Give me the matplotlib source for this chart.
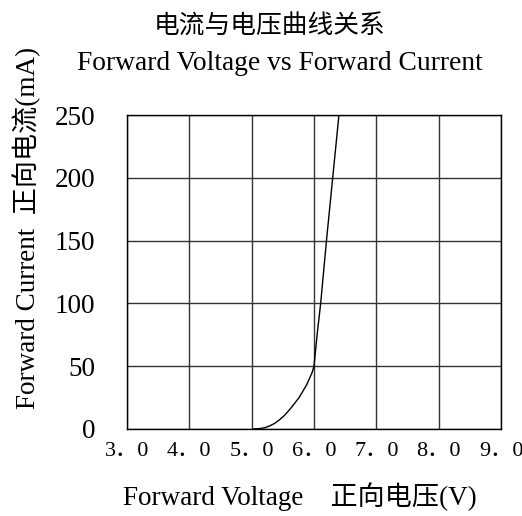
import matplotlib
matplotlib.use("Agg")
import matplotlib.pyplot as plt

# forward voltage (V) vs forward current (mA)
voltage = [5.02, 5.12, 5.21, 5.29, 5.37, 5.45, 5.53, 5.61, 5.69, 5.76, 5.82, 5.88, 5.93, 5.97, 6.00, 6.05, 6.107, 6.20, 6.30, 6.40]
current = [0, 0.3, 1, 2.5, 4.5, 7.5, 11, 15.5, 20.5, 25, 30, 35, 40.5, 45, 50, 75, 100, 150, 200, 250]

x_ticks = [3.0, 4.0, 5.0, 6.0, 7.0, 8.0, 9.0]
x_tick_labels = ["3．0", "4．0", "5．0", "6．0", "7．0", "8．0", "9．0"]
y_ticks = [0, 50, 100, 150, 200, 250]

title_cn = "电流与电压曲线关系"
title_en = "Forward Voltage vs Forward Current"
x_label = "Forward Voltage　正向电压(V)"
y_label = "Forward Current  正向电流(mA)"

fonts = ["Liberation Serif", "Noto Sans CJK SC"]
plt.rcParams["font.family"] = fonts

W, H = 522, 516
fig = plt.figure(figsize=(W / 100, H / 100), dpi=100)
ax = fig.add_axes([127 / W, 1 - 429 / H, 374 / W, 314 / H])

ax.plot(voltage, current, color="black", lw=1.0)

ax.set_xlim(3.0, 9.0)
ax.set_ylim(0, 250)
ax.set_xticks(x_ticks)
ax.set_xticklabels(x_tick_labels, fontsize=16)
ax.set_yticks(y_ticks)
ax.set_yticklabels([str(v) for v in y_ticks], fontsize=19.5)
ax.tick_params(length=0)
ax.tick_params(axis="y", pad=23)
ax.tick_params(axis="x", pad=9)
ax.grid(True, color="#333333", lw=1.0)
for s in ax.spines.values():
    s.set_color("black")
    s.set_linewidth(1.0)

fig.text(270 / W, 1 - 27 / H, title_cn, ha="center", va="center", fontsize=18.5)
fig.text(280 / W, 1 - 63 / H, title_en, ha="center", va="center", fontsize=19.8)
fig.text(300 / W, 1 - 497 / H, x_label, ha="center", va="center", fontsize=19.5)
fig.text(27 / W, 1 - 228 / H, y_label, ha="center", va="center", rotation=90, fontsize=19.5)

fig.savefig("out.png", dpi=100, facecolor="white")
